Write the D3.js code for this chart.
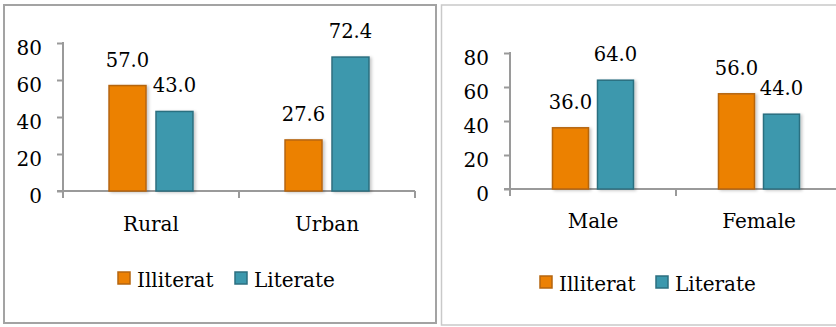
<!DOCTYPE html>
<html>
<head>
<meta charset="utf-8">
<script src="https://cdn.jsdelivr.net/npm/d3@7"></script>
<style>
  html, body { margin: 0; padding: 0; background: #fff; }
  svg { display: block; }
  text { font-family: "DejaVu Serif", serif; fill: #000; }
</style>
</head>
<body>
<svg id="chart" width="836" height="327"></svg>
<script>
// ---- data ----
const seriesNames = ["Illiterat", "Literate"];
const yTicks = [0, 20, 40, 60, 80];

const categoriesA = ["Rural", "Urban"];
const illiterateA = [57.0, 27.6];
const literateA = [43.0, 72.4];

const categoriesB = ["Male", "Female"];
const illiterateB = [36.0, 56.0];
const literateB = [64.0, 44.0];

const colors = { "Illiterat": "#ec8104", "Literate": "#3c98ad" };
const strokes = { "Illiterat": "#b5650f", "Literate": "#2c6f80" };

const svg = d3.select("#chart");
const defs = svg.append("defs");
const f = defs.append("filter").attr("id", "shadow").attr("x", "-20%").attr("y", "-20%").attr("width", "150%").attr("height", "140%");
f.append("feDropShadow").attr("dx", 2).attr("dy", 1).attr("stdDeviation", 1.5)
  .attr("flood-color", "#000").attr("flood-opacity", 0.22);

// panel frames
svg.append("rect").attr("x", 4).attr("y", 5).attr("width", 432).attr("height", 318)
  .attr("fill", "none").attr("stroke", "#a3a3a3").attr("stroke-width", 2);
svg.append("rect").attr("x", 441.5).attr("y", 5).attr("width", 420).attr("height", 320)
  .attr("fill", "none").attr("stroke", "#c9c9c9").attr("stroke-width", 1.5);

function panel(cfg) {
  const g = svg.append("g");
  const x = d3.scaleBand().domain(cfg.categories).range([cfg.x0, cfg.x1]).paddingInner(0).paddingOuter(0);
  const xs = d3.scaleBand().domain(seriesNames).range([0, x.bandwidth()])
    .paddingInner(cfg.pi).paddingOuter(cfg.po);
  const y = d3.scaleLinear().domain([0, 80]).range([cfg.zero, cfg.top]);

  // y axis
  const yAxis = d3.axisLeft(y).tickValues(yTicks).tickSize(6).tickPadding(15).tickFormat(d3.format("d"));
  const ya = g.append("g").attr("transform", `translate(${cfg.x0},0)`).call(yAxis);
  ya.select(".domain").remove();
  ya.selectAll(".tick line").attr("stroke", "#9a9a9a").attr("stroke-width", 2);
  ya.selectAll(".tick text").attr("font-size", 20).attr("dy", "0.55em")
    .style("font-family", "DejaVu Serif, serif").attr("fill", "#000");
  g.append("line").attr("x1", cfg.x0).attr("x2", cfg.x0).attr("y1", cfg.top - 1).attr("y2", cfg.zero + 7)
    .attr("stroke", "#9a9a9a").attr("stroke-width", 2);

  // x axis
  g.append("line").attr("x1", cfg.x0 - 6).attr("x2", cfg.x1).attr("y1", cfg.zero).attr("y2", cfg.zero)
    .attr("stroke", "#9a9a9a").attr("stroke-width", 2);
  const bounds = cfg.categories.map(c => x(c)).concat([cfg.x1]);
  g.selectAll(".xt").data(bounds).enter().append("line")
    .attr("x1", d => d).attr("x2", d => d).attr("y1", cfg.zero).attr("y2", cfg.zero + 7)
    .attr("stroke", "#9a9a9a").attr("stroke-width", 2);
  g.selectAll(".xl").data(cfg.categories).enter().append("text")
    .attr("x", d => x(d) + x.bandwidth() / 2).attr("y", cfg.zero + cfg.catDy)
    .attr("text-anchor", "middle").attr("font-size", 20).text(d => d);

  // bars
  const rows = [];
  cfg.categories.forEach((c, i) => {
    rows.push({ c, s: "Illiterat", v: cfg.ill[i] });
    rows.push({ c, s: "Literate", v: cfg.lit[i] });
  });
  g.selectAll(".bar").data(rows).enter().append("rect")
    .attr("x", d => x(d.c) + xs(d.s))
    .attr("y", d => y(d.v))
    .attr("width", xs.bandwidth())
    .attr("height", d => cfg.zero - y(d.v))
    .attr("fill", d => colors[d.s])
    .attr("stroke", d => strokes[d.s]).attr("stroke-width", 1.5)
    .attr("filter", "url(#shadow)");
  g.selectAll(".lbl").data(rows).enter().append("text")
    .attr("x", d => x(d.c) + xs(d.s) + xs.bandwidth() / 2)
    .attr("y", d => y(d.v) - 19)
    .attr("text-anchor", "middle").attr("font-size", 19.5)
    .text(d => d3.format(".1f")(d.v));

  // legend
  seriesNames.forEach((s, i) => {
    g.append("rect").attr("x", cfg.leg[i]).attr("y", cfg.legY).attr("width", 12).attr("height", 12)
      .attr("fill", colors[s]).attr("stroke", strokes[s]).attr("stroke-width", 1.5);
    g.append("text").attr("x", cfg.leg[i] + 19).attr("y", cfg.legY + 15)
      .attr("font-size", 20).text(s);
  });
}

panel({ categories: categoriesA, ill: illiterateA, lit: literateA,
  x0: 63, x1: 415, zero: 191, top: 43, pi: 0.213, po: 0.98, catDy: 40,
  leg: [118, 235], legY: 272 });
panel({ categories: categoriesB, ill: illiterateB, lit: literateB,
  x0: 510, x1: 842, zero: 189, top: 53, pi: 0.2, po: 0.944, catDy: 39,
  leg: [540, 656], legY: 276 });
</script>
</body>
</html>
